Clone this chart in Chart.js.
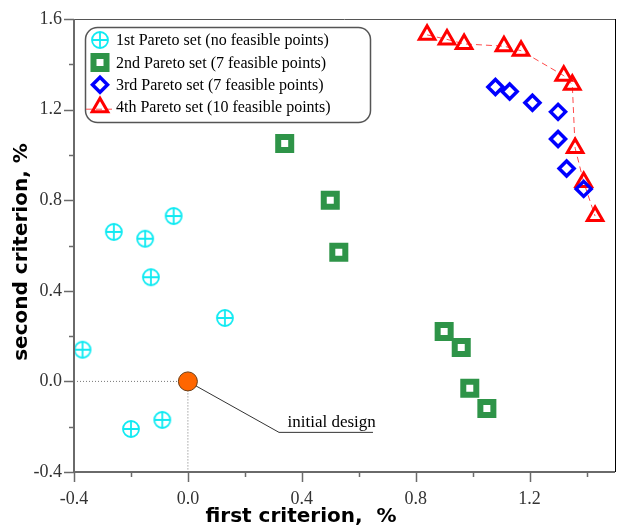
<!DOCTYPE html>
<html>
<head>
<meta charset="utf-8">
<script src="https://cdn.jsdelivr.net/npm/chart.js@4.4.1/dist/chart.umd.min.js"></script>
<style>
  html, body { margin: 0; padding: 0; background: #fff; overflow: hidden; }
  canvas { display: block; }
</style>
</head>
<body>
<canvas id="myChart" width="621" height="529"></canvas>
<script>
// values
const set1X = [-0.37, -0.26, -0.15, -0.05, -0.13, 0.13, -0.20, -0.09];
const set1Y = [0.14, 0.66, 0.63, 0.73, 0.46, 0.28, -0.21, -0.17];
const set2X = [0.34, 0.50, 0.53, 0.90, 0.96, 0.99, 1.05];
const set2Y = [1.05, 0.80, 0.57, 0.22, 0.15, -0.03, -0.12];
const set3X = [1.08, 1.13, 1.21, 1.30, 1.30, 1.33, 1.39];
const set3Y = [1.30, 1.28, 1.23, 1.19, 1.07, 0.94, 0.85];
const set4X = [0.84, 0.91, 0.97, 1.11, 1.17, 1.32, 1.35, 1.36, 1.39, 1.43];
const set4Y = [1.53, 1.51, 1.49, 1.48, 1.46, 1.35, 1.31, 1.03, 0.88, 0.73];
const initialX = [0.0];
const initialY = [0.0];

const seriesNames = [
    '1st Pareto set (no feasible points)',
    '2nd Pareto set (7 feasible points)',
    '3rd Pareto set (7 feasible points)',
    '4th Pareto set (10 feasible points)'
];
const xTickLabels = ['-0.4', '0.0', '0.4', '0.8', '1.2'];
const yTickLabels = ['-0.4', '0.0', '0.4', '0.8', '1.2', '1.6'];

// leader line for the "initial design" note (data coords)
const leaderX = [0.0, 0.32, 0.65];
const leaderY = [0.0, -0.225, -0.225];

function toPoints(xs, ys) {
    return xs.map((x, i) => ({ x: x, y: ys[i] }));
}

function fmt(v) {
    if (Math.abs(v) < 1e-9) v = 0;
    return v.toFixed(1);
}

// circle with a cross in it, used as point style of the 1st set
function crossCircle(color) {
    const c = document.createElement('canvas');
    c.width = 20;
    c.height = 20;
    const g = c.getContext('2d');
    g.strokeStyle = color;
    g.lineWidth = 1.8;
    g.beginPath();
    g.arc(10, 10, 8, 0, Math.PI * 2);
    g.stroke();
    g.beginPath();
    g.moveTo(10, 2); g.lineTo(10, 18);
    g.moveTo(2, 10); g.lineTo(18, 10);
    g.stroke();
    return c;
}

const cyanMark = crossCircle('#10eaf2');

const decorations = {
    id: 'decorations',
    beforeDatasetsDraw(chart) {
        const { ctx, chartArea } = chart;
        const xs = chart.scales.x, ys = chart.scales.y;
        const px = xs.getPixelForValue(initialX[0]);
        const py = ys.getPixelForValue(initialY[0]);
        ctx.save();
        // dotted guides to the initial design
        ctx.strokeStyle = '#777';
        ctx.lineWidth = 1;
        ctx.setLineDash([1, 2]);
        ctx.beginPath();
        ctx.moveTo(chartArea.left, py);
        ctx.lineTo(px, py);
        ctx.moveTo(px, py);
        ctx.lineTo(px, chartArea.bottom);
        ctx.stroke();
        ctx.setLineDash([]);
        // leader line
        ctx.strokeStyle = '#333';
        ctx.beginPath();
        leaderX.forEach((lx, i) => {
            const a = xs.getPixelForValue(lx), b = ys.getPixelForValue(leaderY[i]);
            if (i === 0) ctx.moveTo(a, b); else ctx.lineTo(a, b);
        });
        ctx.stroke();
        ctx.fillStyle = '#000';
        ctx.font = '17px "Liberation Serif"';
        ctx.textBaseline = 'alphabetic';
        ctx.fillText('initial design', xs.getPixelForValue(0.35), ys.getPixelForValue(-0.2));
        ctx.restore();
    },
    afterDraw(chart) {
        const { ctx, chartArea } = chart;
        const xs = chart.scales.x, ys = chart.scales.y;
        ctx.save();

        // frame: gray axes on left/bottom, thin lines top/right
        ctx.strokeStyle = '#555';
        ctx.lineWidth = 1;
        ctx.beginPath();
        ctx.moveTo(chartArea.left, chartArea.top + 0.5);
        ctx.lineTo(chartArea.right, chartArea.top + 0.5);
        ctx.stroke();
        ctx.strokeStyle = '#000';
        ctx.beginPath();
        ctx.moveTo(chartArea.right + 0.5, chartArea.top);
        ctx.lineTo(chartArea.right + 0.5, chartArea.bottom);
        ctx.stroke();
        ctx.strokeStyle = '#6a6a6a';
        ctx.lineWidth = 2;
        ctx.beginPath();
        ctx.moveTo(chartArea.left, chartArea.top);
        ctx.lineTo(chartArea.left, chartArea.bottom);
        ctx.lineTo(chartArea.right, chartArea.bottom);
        ctx.stroke();

        // tick marks, long at labelled values
        ctx.lineWidth = 1.5;
        xs.ticks.forEach((t, i) => {
            const p = Math.round(xs.getPixelForTick(i)) + 0.5;
            const len = xTickLabels.includes(fmt(t.value)) ? 10 : 5;
            ctx.beginPath();
            ctx.moveTo(p, chartArea.bottom);
            ctx.lineTo(p, chartArea.bottom + len);
            ctx.stroke();
        });
        ys.ticks.forEach((t, i) => {
            const p = Math.round(ys.getPixelForTick(i)) + 0.5;
            const len = yTickLabels.includes(fmt(t.value)) ? 10 : 5;
            ctx.beginPath();
            ctx.moveTo(chartArea.left, p);
            ctx.lineTo(chartArea.left - len, p);
            ctx.stroke();
        });

        // axis titles
        ctx.fillStyle = '#000';
        ctx.font = 'bold 20px "DejaVu Sans"';
        ctx.textAlign = 'center';
        ctx.textBaseline = 'alphabetic';
        ctx.fillText('first criterion,  %', 301, 522);
        ctx.save();
        ctx.translate(27, 252);
        ctx.rotate(-Math.PI / 2);
        ctx.fillText('second criterion, %', 0, 0);
        ctx.restore();

        // legend box
        ctx.strokeStyle = '#555';
        ctx.lineWidth = 1.5;
        ctx.beginPath();
        ctx.roundRect(85.5, 27.5, 285, 95, 12);
        ctx.fillStyle = '#fff';
        ctx.fill();
        ctx.stroke();

        ctx.textAlign = 'left';
        ctx.textBaseline = 'middle';
        ctx.font = '16px "Liberation Serif"';
        chart.data.datasets.slice(0, 4).forEach((ds, i) => {
            const ry = 40 + i * 22.4;
            if (ds.showLine) {
                ctx.strokeStyle = ds.borderColor;
                ctx.lineWidth = 1;
                ctx.setLineDash(ds.borderDash);
                ctx.beginPath();
                ctx.moveTo(86, ry + 2);
                ctx.lineTo(116, ry + 2);
                ctx.stroke();
                ctx.setLineDash([]);
            }
            ctx.fillStyle = ds.pointBackgroundColor;
            ctx.strokeStyle = ds.pointBorderColor;
            ctx.lineWidth = ds.pointBorderWidth;
            Chart.helpers.drawPoint(ctx, {
                pointStyle: ds.pointStyle,
                radius: ds.pointRadius,
                borderWidth: ds.pointBorderWidth,
                rotation: 0
            }, 100, ry);
            ctx.fillStyle = '#000';
            ctx.fillText(seriesNames[i], 116, ry + 1);
        });
        ctx.restore();
    }
};

const ctx = document.getElementById('myChart').getContext('2d');
const myChart = new Chart(ctx, {
    type: 'scatter',
    data: {
        datasets: [{
            label: seriesNames[0],
            data: toPoints(set1X, set1Y),
            pointStyle: cyanMark,
            pointRadius: 9,
            pointBackgroundColor: 'rgba(0,0,0,0)',
            pointBorderColor: '#10eaf2',
            pointBorderWidth: 0
        }, {
            label: seriesNames[1],
            data: toPoints(set2X, set2Y),
            pointStyle: 'rect',
            pointRadius: 9.2,
            pointBackgroundColor: '#fff',
            pointBorderColor: '#2e9448',
            pointBorderWidth: 6
        }, {
            label: seriesNames[2],
            data: toPoints(set3X, set3Y),
            pointStyle: 'rectRot',
            pointRadius: 7.5,
            pointBackgroundColor: 'rgba(0,0,0,0)',
            pointBorderColor: '#0000ff',
            pointBorderWidth: 3.5
        }, {
            label: seriesNames[3],
            data: toPoints(set4X, set4Y),
            showLine: true,
            borderColor: '#ff4a4a',
            borderWidth: 1,
            borderDash: [6, 4],
            pointStyle: 'triangle',
            pointRadius: 9,
            pointBackgroundColor: 'rgba(0,0,0,0)',
            pointBorderColor: '#ff0000',
            pointBorderWidth: 3
        }, {
            label: 'initial design',
            data: toPoints(initialX, initialY),
            pointStyle: 'circle',
            pointRadius: 9.5,
            pointBackgroundColor: '#ff6600',
            pointBorderColor: '#6b3a10',
            pointBorderWidth: 1
        }]
    },
    options: {
        responsive: false,
        animation: false,
        // points near the edge must not push the plot area inwards
        layout: { autoPadding: false, padding: { left: 0, right: 6, top: 19, bottom: 0 } },
        plugins: {
            legend: { display: false },
            tooltip: { enabled: false }
        },
        scales: {
            x: {
                type: 'linear',
                min: -0.4,
                max: 1.5,
                grid: { display: false, drawTicks: false },
                border: { display: false },
                afterFit(scale) {
                    scale.height = 57;
                    scale.paddingLeft = 0;
                    scale.paddingRight = 0;
                },
                ticks: {
                    stepSize: 0.2,
                    includeBounds: false,
                    autoSkip: false,
                    maxRotation: 0,
                    padding: 16,
                    color: '#333',
                    font: { family: 'Liberation Serif', size: 18 },
                    callback: (v) => xTickLabels.includes(fmt(v)) ? fmt(v) : ''
                }
            },
            y: {
                type: 'linear',
                min: -0.4,
                max: 1.6,
                grid: { display: false, drawTicks: false },
                border: { display: false },
                afterFit(scale) {
                    scale.width = 74;
                    scale.paddingTop = 0;
                    scale.paddingBottom = 0;
                },
                ticks: {
                    stepSize: 0.2,
                    autoSkip: false,
                    padding: 12,
                    color: '#333',
                    font: { family: 'Liberation Serif', size: 18 },
                    callback: (v) => yTickLabels.includes(fmt(v)) ? fmt(v) : ''
                }
            }
        }
    },
    plugins: [decorations]
});
</script>
</body>
</html>
